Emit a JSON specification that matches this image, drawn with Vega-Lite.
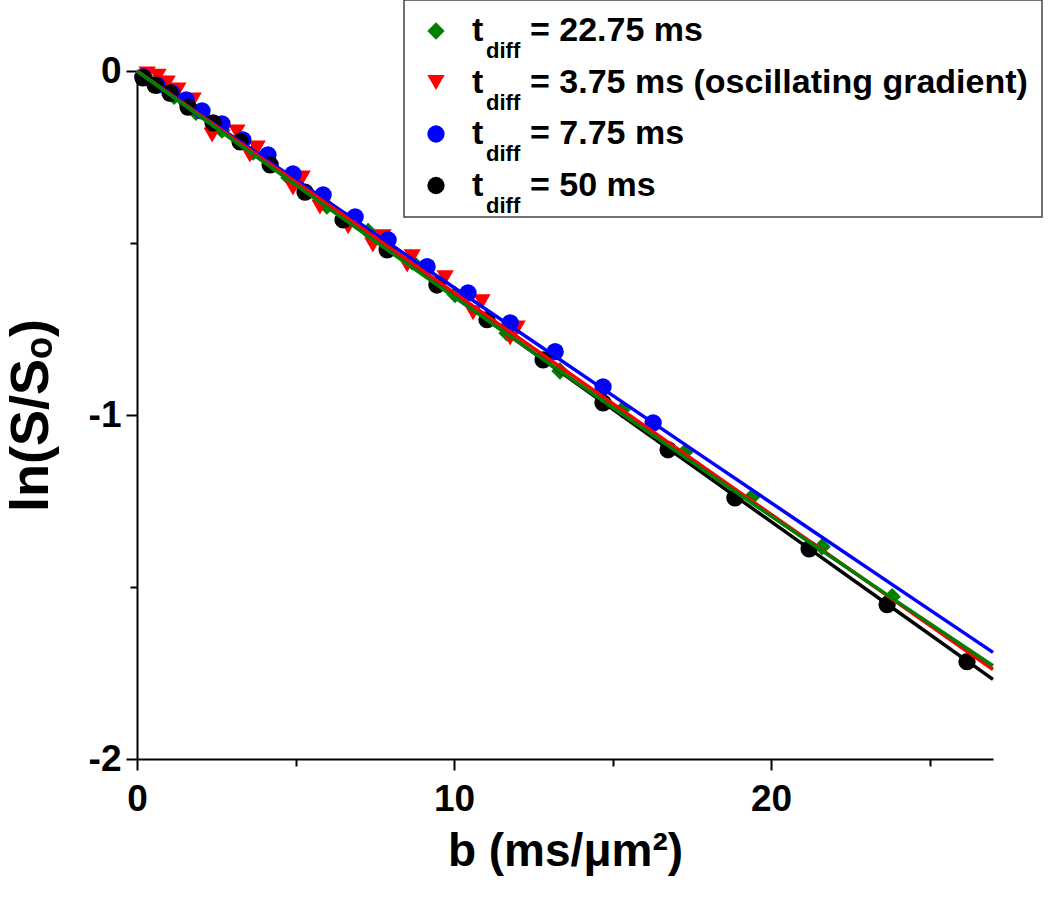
{
  "$schema": "https://vega.github.io/schema/vega-lite/v6.json",
  "width": 856,
  "height": 688,
  "autosize": {"type": "none"},
  "padding": {"left": 137, "top": 71, "right": 57, "bottom": 147},
  "background": "white",
  "config": {
    "view": {"stroke": null},
    "font": "Liberation Sans",
    "legend": {"strokeWidth": 1.5}
  },
  "datasets": {
    "points": [
      {"series": "22.75 ms", "b": 0.25, "lnS": -0.015},
      {"series": "22.75 ms", "b": 0.66, "lnS": -0.042},
      {"series": "22.75 ms", "b": 1.17, "lnS": -0.074},
      {"series": "22.75 ms", "b": 1.86, "lnS": -0.12},
      {"series": "22.75 ms", "b": 2.68, "lnS": -0.172},
      {"series": "22.75 ms", "b": 3.66, "lnS": -0.236},
      {"series": "22.75 ms", "b": 4.79, "lnS": -0.31},
      {"series": "22.75 ms", "b": 5.99, "lnS": -0.393},
      {"series": "22.75 ms", "b": 7.29, "lnS": -0.466},
      {"series": "22.75 ms", "b": 8.68, "lnS": -0.555},
      {"series": "22.75 ms", "b": 10.03, "lnS": -0.65},
      {"series": "22.75 ms", "b": 11.67, "lnS": -0.762},
      {"series": "22.75 ms", "b": 13.34, "lnS": -0.872},
      {"series": "22.75 ms", "b": 15.3, "lnS": -0.985},
      {"series": "22.75 ms", "b": 17.29, "lnS": -1.107},
      {"series": "22.75 ms", "b": 19.4, "lnS": -1.238},
      {"series": "22.75 ms", "b": 21.61, "lnS": -1.383},
      {"series": "22.75 ms", "b": 23.82, "lnS": -1.528},
      {"series": "3.75 ms (oscillating gradient)", "b": 0.32, "lnS": -0.009},
      {"series": "3.75 ms (oscillating gradient)", "b": 0.66, "lnS": -0.015},
      {"series": "3.75 ms (oscillating gradient)", "b": 0.95, "lnS": -0.035},
      {"series": "3.75 ms (oscillating gradient)", "b": 1.29, "lnS": -0.055},
      {"series": "3.75 ms (oscillating gradient)", "b": 1.77, "lnS": -0.084},
      {"series": "3.75 ms (oscillating gradient)", "b": 2.37, "lnS": -0.186},
      {"series": "3.75 ms (oscillating gradient)", "b": 3.15, "lnS": -0.177},
      {"series": "3.75 ms (oscillating gradient)", "b": 3.56, "lnS": -0.244},
      {"series": "3.75 ms (oscillating gradient)", "b": 3.79, "lnS": -0.224},
      {"series": "3.75 ms (oscillating gradient)", "b": 4.92, "lnS": -0.34},
      {"series": "3.75 ms (oscillating gradient)", "b": 5.21, "lnS": -0.311},
      {"series": "3.75 ms (oscillating gradient)", "b": 5.77, "lnS": -0.395},
      {"series": "3.75 ms (oscillating gradient)", "b": 6.66, "lnS": -0.453},
      {"series": "3.75 ms (oscillating gradient)", "b": 7.44, "lnS": -0.506},
      {"series": "3.75 ms (oscillating gradient)", "b": 7.76, "lnS": -0.482},
      {"series": "3.75 ms (oscillating gradient)", "b": 8.52, "lnS": -0.564},
      {"series": "3.75 ms (oscillating gradient)", "b": 8.68, "lnS": -0.54},
      {"series": "3.75 ms (oscillating gradient)", "b": 9.72, "lnS": -0.601},
      {"series": "3.75 ms (oscillating gradient)", "b": 10.6, "lnS": -0.703},
      {"series": "3.75 ms (oscillating gradient)", "b": 10.88, "lnS": -0.671},
      {"series": "3.75 ms (oscillating gradient)", "b": 11.77, "lnS": -0.776},
      {"series": "3.75 ms (oscillating gradient)", "b": 11.99, "lnS": -0.747},
      {"series": "7.75 ms", "b": 0.19, "lnS": -0.017},
      {"series": "7.75 ms", "b": 0.63, "lnS": -0.041},
      {"series": "7.75 ms", "b": 1.1, "lnS": -0.064},
      {"series": "7.75 ms", "b": 1.55, "lnS": -0.084},
      {"series": "7.75 ms", "b": 2.05, "lnS": -0.116},
      {"series": "7.75 ms", "b": 2.68, "lnS": -0.154},
      {"series": "7.75 ms", "b": 3.34, "lnS": -0.2},
      {"series": "7.75 ms", "b": 4.13, "lnS": -0.244},
      {"series": "7.75 ms", "b": 4.92, "lnS": -0.299},
      {"series": "7.75 ms", "b": 5.87, "lnS": -0.36},
      {"series": "7.75 ms", "b": 6.88, "lnS": -0.424},
      {"series": "7.75 ms", "b": 7.92, "lnS": -0.491},
      {"series": "7.75 ms", "b": 9.15, "lnS": -0.569},
      {"series": "7.75 ms", "b": 10.44, "lnS": -0.645},
      {"series": "7.75 ms", "b": 11.77, "lnS": -0.732},
      {"series": "7.75 ms", "b": 13.19, "lnS": -0.816},
      {"series": "7.75 ms", "b": 14.7, "lnS": -0.918},
      {"series": "7.75 ms", "b": 16.28, "lnS": -1.023},
      {"series": "50 ms", "b": 0.19, "lnS": -0.02},
      {"series": "50 ms", "b": 0.57, "lnS": -0.041},
      {"series": "50 ms", "b": 1.04, "lnS": -0.064},
      {"series": "50 ms", "b": 1.61, "lnS": -0.105},
      {"series": "50 ms", "b": 2.4, "lnS": -0.151},
      {"series": "50 ms", "b": 3.25, "lnS": -0.206},
      {"series": "50 ms", "b": 4.2, "lnS": -0.273},
      {"series": "50 ms", "b": 5.3, "lnS": -0.352},
      {"series": "50 ms", "b": 6.5, "lnS": -0.433},
      {"series": "50 ms", "b": 7.89, "lnS": -0.52},
      {"series": "50 ms", "b": 9.46, "lnS": -0.622},
      {"series": "50 ms", "b": 11.04, "lnS": -0.723},
      {"series": "50 ms", "b": 12.81, "lnS": -0.84},
      {"series": "50 ms", "b": 14.7, "lnS": -0.965},
      {"series": "50 ms", "b": 16.75, "lnS": -1.101},
      {"series": "50 ms", "b": 18.86, "lnS": -1.241},
      {"series": "50 ms", "b": 21.2, "lnS": -1.389},
      {"series": "50 ms", "b": 23.66, "lnS": -1.551},
      {"series": "50 ms", "b": 26.18, "lnS": -1.717}
    ],
    "fits": [
      {"series": "50 ms", "b": 0, "lnS": 0},
      {"series": "50 ms", "b": 3, "lnS": -0.1965},
      {"series": "50 ms", "b": 6, "lnS": -0.393},
      {"series": "50 ms", "b": 9, "lnS": -0.5895},
      {"series": "50 ms", "b": 12, "lnS": -0.786},
      {"series": "50 ms", "b": 15, "lnS": -0.9825},
      {"series": "50 ms", "b": 18, "lnS": -1.179},
      {"series": "50 ms", "b": 21, "lnS": -1.3755},
      {"series": "50 ms", "b": 24, "lnS": -1.572},
      {"series": "50 ms", "b": 27, "lnS": -1.7685},
      {"series": "7.75 ms", "b": 0, "lnS": 0},
      {"series": "7.75 ms", "b": 3, "lnS": -0.1894},
      {"series": "7.75 ms", "b": 6, "lnS": -0.3784},
      {"series": "7.75 ms", "b": 9, "lnS": -0.567},
      {"series": "7.75 ms", "b": 12, "lnS": -0.7552},
      {"series": "7.75 ms", "b": 15, "lnS": -0.943},
      {"series": "7.75 ms", "b": 18, "lnS": -1.1304},
      {"series": "7.75 ms", "b": 21, "lnS": -1.3174},
      {"series": "7.75 ms", "b": 24, "lnS": -1.5039},
      {"series": "7.75 ms", "b": 27, "lnS": -1.69},
      {"series": "3.75 ms (oscillating gradient)", "b": 0, "lnS": 0},
      {"series": "3.75 ms (oscillating gradient)", "b": 3, "lnS": -0.1933},
      {"series": "3.75 ms (oscillating gradient)", "b": 6, "lnS": -0.3866},
      {"series": "3.75 ms (oscillating gradient)", "b": 9, "lnS": -0.58},
      {"series": "3.75 ms (oscillating gradient)", "b": 12, "lnS": -0.7733},
      {"series": "3.75 ms (oscillating gradient)", "b": 15, "lnS": -0.9666},
      {"series": "3.75 ms (oscillating gradient)", "b": 18, "lnS": -1.1599},
      {"series": "3.75 ms (oscillating gradient)", "b": 21, "lnS": -1.3532},
      {"series": "3.75 ms (oscillating gradient)", "b": 24, "lnS": -1.5466},
      {"series": "3.75 ms (oscillating gradient)", "b": 27, "lnS": -1.7399},
      {"series": "22.75 ms", "b": 0, "lnS": 0},
      {"series": "22.75 ms", "b": 3, "lnS": -0.1991},
      {"series": "22.75 ms", "b": 6, "lnS": -0.3965},
      {"series": "22.75 ms", "b": 9, "lnS": -0.5921},
      {"series": "22.75 ms", "b": 12, "lnS": -0.786},
      {"series": "22.75 ms", "b": 15, "lnS": -0.9781},
      {"series": "22.75 ms", "b": 18, "lnS": -1.1684},
      {"series": "22.75 ms", "b": 21, "lnS": -1.357},
      {"series": "22.75 ms", "b": 24, "lnS": -1.5439},
      {"series": "22.75 ms", "b": 27, "lnS": -1.7289}
    ]
  },
  "layer": [
    {
      "data": {"name": "points"},
      "mark": {"type": "point", "filled": true, "opacity": 1, "size": 300, "strokeWidth": 0},
      "encoding": {
        "x": {
          "field": "b", "type": "quantitative",
          "scale": {"domain": [0, 27], "nice": false, "zero": false},
          "axis": {
            "values": [0, 5, 10, 15, 20, 25],
            "labelExpr": "datum.value % 10 === 0 ? datum.label : ''",
            "tickSize": {"condition": {"test": "datum.value % 10 === 0", "value": 11}, "value": 7},
            "tickWidth": 2, "tickColor": "black", "domainColor": "black", "domainWidth": 2,
            "labelFont": "Liberation Sans", "labelFontWeight": "bold", "labelFontSize": 37, "labelColor": "black",
            "labelPadding": 11, "labelFlush": false, "labelOverlap": false,
            "title": "b (ms/μm²)", "titleFont": "Liberation Sans", "titleFontWeight": "bold", "titleFontSize": 46,
            "titleColor": "black", "titlePadding": 12, "grid": false
          }
        },
        "y": {
          "field": "lnS", "type": "quantitative",
          "scale": {"domain": [-2, 0], "nice": false, "zero": false},
          "axis": {
            "values": [-2, -1.5, -1, -0.5, 0],
            "labelExpr": "datum.value % 1 === 0 ? toString(datum.value) : ''",
            "tickSize": {"condition": {"test": "datum.value % 1 === 0", "value": 11}, "value": 7},
            "tickWidth": 2, "tickColor": "black", "domainColor": "black", "domainWidth": 2,
            "labelFont": "Liberation Sans", "labelFontWeight": "bold", "labelFontSize": 37, "labelColor": "black",
            "labelPadding": 5, "labelFlush": false, "labelOverlap": false,
            "title": "ln(S/Sₒ)", "titleFont": "Liberation Sans", "titleFontWeight": "bold", "titleFontSize": 54,
            "titleColor": "black", "titlePadding": 30, "grid": false
          }
        },
        "color": {
          "field": "series", "type": "nominal",
          "scale": {
            "domain": ["22.75 ms", "3.75 ms (oscillating gradient)", "7.75 ms", "50 ms"],
            "range": ["#008000", "#ff0000", "#0000ff", "#000000"]
          },
          "legend": {
            "orient": "none", "legendX": 267, "legendY": -71,
            "title": null, "padding": 14,
            "symbolSize": 300, "symbolStrokeWidth": 0, "symbolOffset": 1, "labelOffset": 19,
            "clipHeight": 34, "rowPadding": 17.5,
            "labelFont": "Liberation Sans", "labelFontWeight": "bold", "labelFontSize": 34, "labelColor": "black",
            "labelExpr": "'t'"
          }
        },
        "shape": {
          "field": "series", "type": "nominal",
          "scale": {
            "domain": ["22.75 ms", "3.75 ms (oscillating gradient)", "7.75 ms", "50 ms"],
            "range": ["diamond", "triangle-down", "circle", "circle"]
          }
        }
      }
    },
    {
      "data": {"name": "points"},
      "mark": {"type": "point", "opacity": 0},
      "encoding": {
        "x": {"field": "b", "type": "quantitative"},
        "y": {"field": "lnS", "type": "quantitative"},
        "size": {
          "field": "series", "type": "nominal",
          "sort": ["22.75 ms", "3.75 ms (oscillating gradient)", "7.75 ms", "50 ms"],
          "scale": {"range": [1, 2]},
          "legend": {
            "orient": "none", "legendX": 327, "legendY": -37,
            "title": null, "padding": 0,
            "symbolOpacity": 0, "symbolStrokeWidth": 0, "symbolOffset": 0, "labelOffset": 0,
            "clipHeight": 34, "rowPadding": 17.5,
            "labelFont": "Liberation Sans", "labelFontWeight": "bold", "labelFontSize": 22, "labelColor": "black",
            "labelExpr": "'diff'"
          }
        },
        "strokeWidth": {
          "field": "series", "type": "nominal",
          "sort": ["22.75 ms", "3.75 ms (oscillating gradient)", "7.75 ms", "50 ms"],
          "scale": {"range": [0.1, 0.2]},
          "legend": {
            "orient": "none", "legendX": 267, "legendY": -71,
            "title": null, "padding": 14,
            "strokeColor": "#444444",
            "symbolOpacity": 0, "symbolSize": 1, "symbolOffset": 0, "labelOffset": 78,
            "clipHeight": 34, "rowPadding": 17.5,
            "labelFont": "Liberation Sans", "labelFontWeight": "bold", "labelFontSize": 34, "labelColor": "black",
            "labelLimit": 1000,
            "labelExpr": "'= ' + datum.label"
          }
        }
      }
    },
    {
      "data": {"name": "fits"},
      "mark": {"type": "line", "strokeWidth": 3.5},
      "encoding": {
        "x": {"field": "b", "type": "quantitative"},
        "y": {"field": "lnS", "type": "quantitative"},
        "color": {"field": "series", "type": "nominal", "legend": null}
      }
    }
  ]
}
